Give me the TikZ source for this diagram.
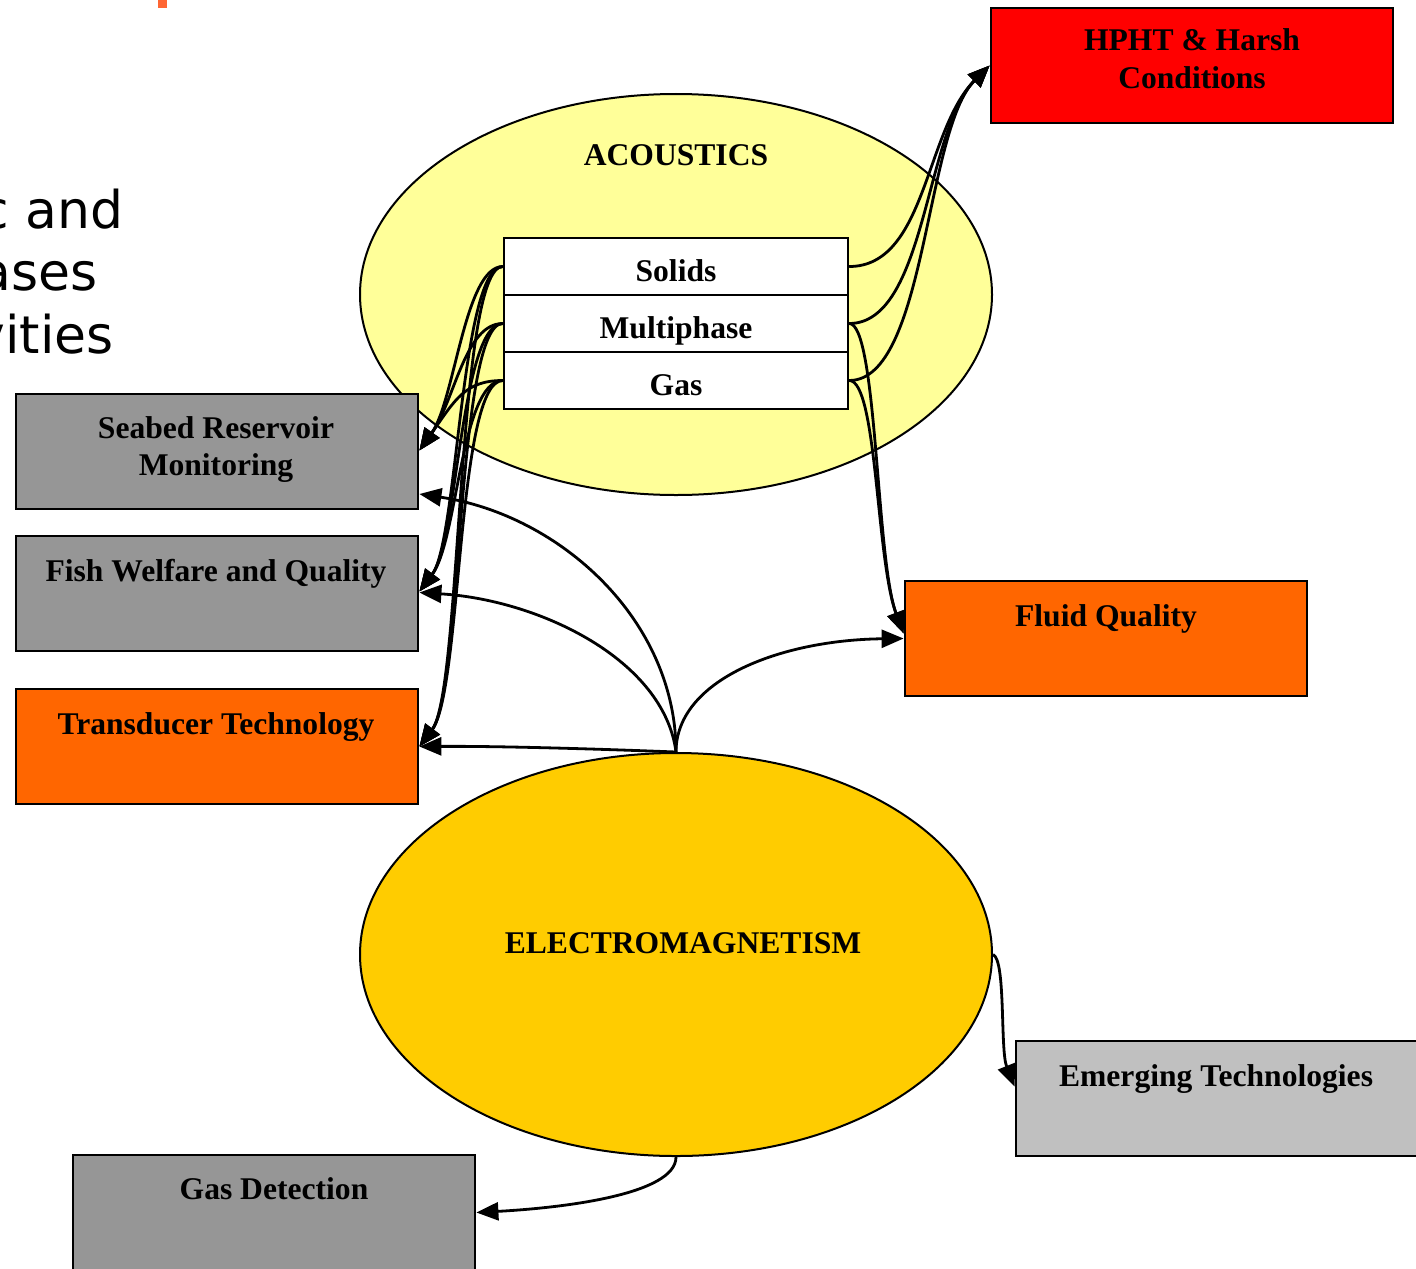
\documentclass[tikz,border=0pt]{standalone}
\usepackage{fontspec}
\setmainfont{Liberation Serif}
\newfontfamily\slidefont{DejaVu Sans}
\usetikzlibrary{arrows.meta,shapes.geometric,calc}
\definecolor{acyellow}{HTML}{FFFF99}
\definecolor{emyellow}{HTML}{FFCC00}
\definecolor{boxorange}{HTML}{FF6600}
\definecolor{boxgray}{HTML}{969696}
\definecolor{boxlight}{HTML}{C0C0C0}
\definecolor{boxred}{HTML}{FF0000}
\definecolor{markorange}{HTML}{FF6633}
\begin{document}
\begin{tikzpicture}[x=0.5pt,y=-0.5pt,
  box/.style={draw,line width=1.4pt,rectangle,inner sep=0pt,minimum width=201pt,minimum height=57.5pt},
  rowbox/.style={draw,line width=1.2pt,rectangle,fill=white,inner sep=0pt,minimum width=172pt,minimum height=28.5pt},
  oval/.style={draw,line width=1pt,ellipse,inner sep=0pt,minimum width=316pt},
  lbl/.style={font=\fontsize{15.8pt}{18.5pt}\selectfont\bfseries,anchor=base,inner sep=0pt},
  slide/.style={font=\slidefont\fontsize{26pt}{31pt}\selectfont,anchor=base east,inner sep=0pt},
  conn/.style={line width=1.4pt,-{Triangle[length=11pt,width=9pt]}},
]
\useasboundingbox (0,0) rectangle (1416,1268);

% slide remnants
\fill[markorange] (158,0) rectangle (167,8);
\node[slide] (t1) at (124,228) {c and};
\node[slide] (t2) at (98,290) {ases};
\node[slide] (t3) at (114,353) {vities};

% ellipses
\node[oval,fill=acyellow,minimum height=200.5pt] (ac) at (676,294.5) {};
\node[oval,fill=emyellow,minimum height=201.5pt] (em) at (676,954.5) {};
\node[lbl] (aclbl) at (676,165) {ACOUSTICS};
\node[lbl] (emlbl) at (683,953) {ELECTROMAGNETISM};

% rows
\node[rowbox] (s) at (676,266.5) {};
\node[rowbox] (m) at (676,323.5) {};
\node[rowbox] (g) at (676,380.5) {};
\node[lbl] (slbl) at (676,281) {Solids};
\node[lbl] (mlbl) at (676,338) {Multiphase};
\node[lbl] (glbl) at (676,395) {Gas};

% boxes
\node[box,fill=boxred] (hpht) at (1192,65.5) {};
\node[lbl] (hl1) at (1192,51) {HPHT \& Harsh};
\node[lbl] (hl2) at (1192,89) {Conditions};

\node[box,fill=boxgray] (seabed) at (217,451.5) {};
\node[lbl] (sl1) at (216,438) {Seabed Reservoir};
\node[lbl] (sl2) at (216,475) {Monitoring};

\node[box,fill=boxgray] (fish) at (217,593.5) {};
\node[lbl] (fl) at (216,581) {Fish Welfare and Quality};

\node[box,fill=boxorange] (trans) at (217,746.5) {};
\node[lbl] (tl) at (216,734) {Transducer Technology};

\node[box,fill=boxorange] (fluid) at (1106,638.5) {};
\node[lbl] (fql) at (1106,626) {Fluid Quality};

\node[box,fill=boxlight] (emerg) at (1217,1098.5) {};
\node[lbl] (el) at (1216,1086) {Emerging Technologies};

\node[box,fill=boxgray] (gasdet) at (274,1212.5) {};
\node[lbl] (gdl) at (274,1199) {Gas Detection};

% left bundle: rows -> seabed / fish / transducer
\foreach \r in {s,m,g}{
  \draw[conn] (\r.west) .. controls ($(\r.west)+(-38,0)$) and (455,400) .. ($(seabed.east)+(0,-1)$);
  \draw[conn] (\r.west) .. controls ($(\r.west)+(-42,0)$) and (458,540) .. ($(fish.east)+(0,-2)$);
  \draw[conn] (\r.west) .. controls ($(\r.west)+(-46,0)$) and (462,690) .. (trans.east);
}
% right bundle: rows -> HPHT
\foreach \r in {s,m,g}{
  \draw[conn] (\r.east) .. controls ($(\r.east)+(77,0)$) and (925,130) .. (hpht.west);
}
% multiphase, gas -> fluid quality
\foreach \r in {m,g}{
  \draw[conn] (\r.east) .. controls ($(\r.east)+(28,0)$) and (876,560) .. ($(fluid.west)+(0,-5)$);
}
% electromagnetism
\draw[conn] (em.north) .. controls (676,620) and (560,515) .. ($(seabed.east)+(0,42.5)$);
\draw[conn] (em.north) .. controls (664,660) and (540,600) .. ($(fish.east)+(0,-1)$);
\draw[conn] (em.north) .. controls (600,749) and (500,746) .. (trans.east);
\draw[conn] (em.north) .. controls (676,680) and (780,640) .. (fluid.west);
\draw[conn] (em.east) .. controls (1006,960) and (1000,1050) .. ($(emerg.west)+(0,-12)$);
\draw[conn] (em.south) .. controls (676,1195) and (560,1208) .. (gasdet.east);
\end{tikzpicture}
\end{document}
